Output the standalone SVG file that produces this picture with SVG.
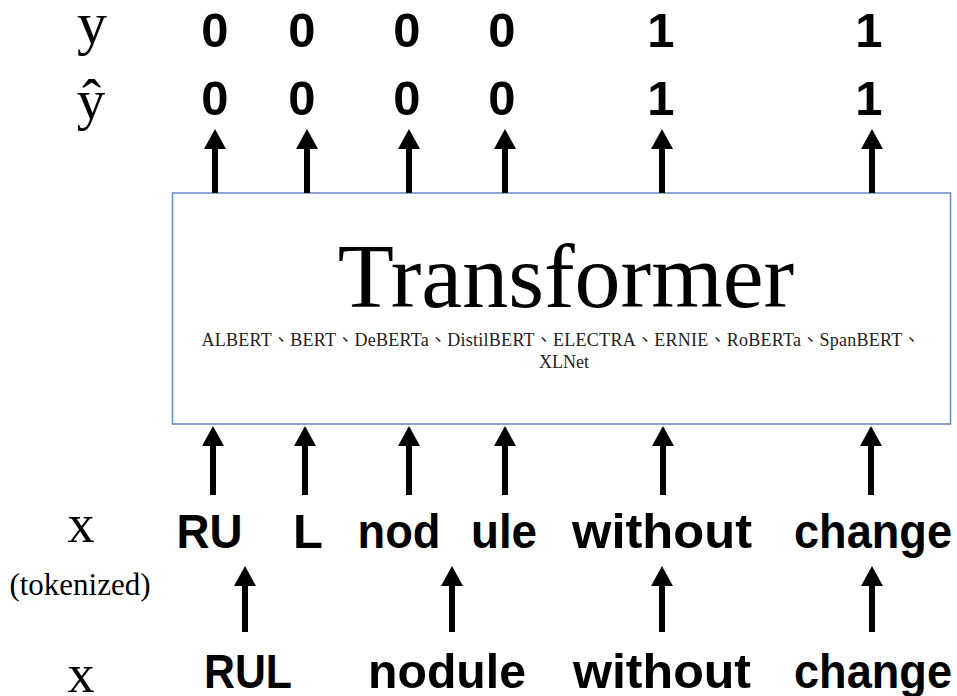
<svg xmlns="http://www.w3.org/2000/svg" width="957" height="696" viewBox="0 0 957 696">
  <style>
    .serif { font-family: 'Liberation Serif', 'Times New Roman', serif; fill: #000; }
    .bold { font-family: 'Liberation Sans', Arial, sans-serif; font-weight: bold; font-size: 49px; fill: #000; text-anchor: middle; }
    .lbl { text-anchor: middle; }
    .sub { font-family: 'Liberation Serif', 'Noto Sans CJK TC', serif; font-size: 18px; fill: #222; text-anchor: middle; }
    .arrow { stroke: #000; stroke-width: 6; fill: none; marker-end: url(#head); }
  </style>
  <defs>
    <marker id="head" markerUnits="userSpaceOnUse" markerWidth="22" markerHeight="22" refX="1" refY="11" orient="auto" viewBox="0 0 20 22">
      <path d="M0,0 L20,11 L0,22 z" fill="#000"/>
    </marker>
  </defs>
  <rect width="957" height="696" fill="#fff"/>

  <g id="row-labels">
    <text class="serif lbl" x="92" y="43" font-size="60">y</text>
    <text class="serif lbl" x="91" y="119" font-size="57">ŷ</text>
    <text class="serif lbl" x="81" y="542" font-size="54">x</text>
    <text class="serif lbl" x="80" y="595" font-size="31">(tokenized)</text>
    <text class="serif lbl" x="81" y="692" font-size="54">x</text>
  </g>

  <g id="y-labels">
    <text class="bold" x="215" y="47">0</text>
    <text class="bold" x="302" y="47">0</text>
    <text class="bold" x="407" y="47">0</text>
    <text class="bold" x="502" y="47">0</text>
    <text class="bold" x="661" y="47">1</text>
    <text class="bold" x="869" y="47">1</text>
  </g>

  <g id="y-hat-labels">
    <text class="bold" x="215" y="115">0</text>
    <text class="bold" x="302" y="115">0</text>
    <text class="bold" x="407" y="115">0</text>
    <text class="bold" x="502" y="115">0</text>
    <text class="bold" x="661" y="115">1</text>
    <text class="bold" x="869" y="115">1</text>
  </g>

  <g id="transformer">
    <rect x="172.5" y="193" width="778" height="231" fill="#fff" stroke="#6f8fc4" stroke-width="1.6"/>
    <text class="serif lbl" x="566" y="307" font-size="92">Transformer</text>
    <text class="sub" x="561" y="346" textLength="719" lengthAdjust="spacing">ALBERT、BERT、DeBERTa、DistilBERT、ELECTRA、ERNIE、RoBERTa、SpanBERT、</text>
    <text class="sub" x="564" y="368">XLNet</text>
  </g>

  <g id="tokens">
    <text class="bold" x="209.5" y="548" textLength="66" lengthAdjust="spacingAndGlyphs">RU</text>
    <text class="bold" x="308" y="548">L</text>
    <text class="bold" x="399" y="548" textLength="83" lengthAdjust="spacingAndGlyphs">nod</text>
    <text class="bold" x="504" y="548" textLength="66" lengthAdjust="spacingAndGlyphs">ule</text>
    <text class="bold" x="662" y="548" textLength="180" lengthAdjust="spacingAndGlyphs">without</text>
    <text class="bold" x="873" y="548" textLength="158" lengthAdjust="spacingAndGlyphs">change</text>
  </g>

  <g id="words">
    <text class="bold" x="248" y="688" textLength="88" lengthAdjust="spacingAndGlyphs">RUL</text>
    <text class="bold" x="447" y="688" textLength="158" lengthAdjust="spacingAndGlyphs">nodule</text>
    <text class="bold" x="662" y="688" textLength="178" lengthAdjust="spacingAndGlyphs">without</text>
    <text class="bold" x="873" y="688" textLength="158" lengthAdjust="spacingAndGlyphs">change</text>
  </g>

  <g id="connectors">
    <line class="arrow" x1="215" y1="193" x2="215" y2="148"/>
    <line class="arrow" x1="307" y1="193" x2="307" y2="148"/>
    <line class="arrow" x1="409" y1="193" x2="409" y2="148"/>
    <line class="arrow" x1="505" y1="193" x2="505" y2="148"/>
    <line class="arrow" x1="662" y1="193" x2="662" y2="148"/>
    <line class="arrow" x1="872" y1="193" x2="872" y2="148"/>

    <line class="arrow" x1="213" y1="495" x2="213" y2="445"/>
    <line class="arrow" x1="305" y1="495" x2="305" y2="445"/>
    <line class="arrow" x1="409" y1="495" x2="409" y2="445"/>
    <line class="arrow" x1="505" y1="495" x2="505" y2="445"/>
    <line class="arrow" x1="663" y1="495" x2="663" y2="445"/>
    <line class="arrow" x1="871" y1="495" x2="871" y2="445"/>

    <line class="arrow" x1="245" y1="632" x2="245" y2="585"/>
    <line class="arrow" x1="452" y1="632" x2="452" y2="585"/>
    <line class="arrow" x1="662" y1="632" x2="662" y2="585"/>
    <line class="arrow" x1="872" y1="632" x2="872" y2="585"/>
  </g>
</svg>
